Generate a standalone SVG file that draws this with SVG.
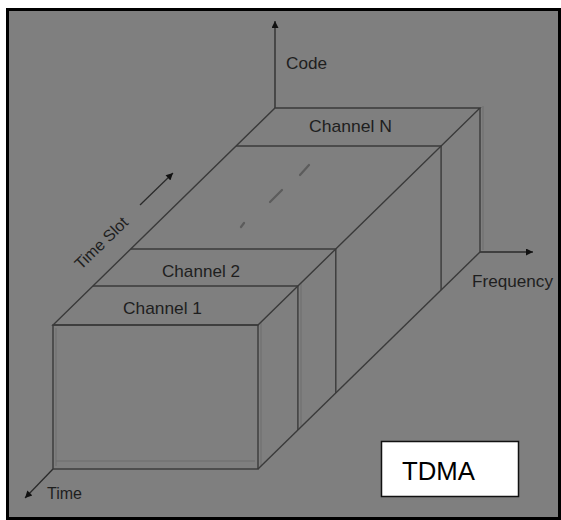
<svg xmlns="http://www.w3.org/2000/svg" width="561" height="520" viewBox="0 0 561 520">
  <defs>
    <style>
      .ln { fill: none; stroke: #3a3a3a; stroke-width: 1.4; stroke-linejoin: miter; }
      .faint { fill: none; stroke: #6e6e6e; stroke-width: 1; }
      .ax { fill: none; stroke: #2a2a2a; stroke-width: 1.3; }
      .lbl { font-family: "Liberation Sans", Arial, sans-serif; font-size: 17px; fill: #1e1e1e; }
      .dash { stroke: #5c5c5c; stroke-width: 2.2; stroke-linecap: round; }
    </style>
    <marker id="ah" viewBox="0 0 10 10" refX="10" refY="5" markerWidth="10" markerHeight="7" markerUnits="userSpaceOnUse" orient="auto">
      <path d="M0,0 L10,5 L0,10 Z" fill="#111"/>
    </marker>
  </defs>

  <rect x="0" y="0" width="561" height="520" fill="#ffffff"/>
  <rect id="frame" x="7.5" y="9.5" width="552" height="509" fill="#7f7f7f" stroke="#000" stroke-width="3"/>

  <!-- axes -->
  <g id="axes">
    <line class="ax" x1="275" y1="108" x2="275" y2="21" marker-end="url(#ah)"/>
    <line class="ax" x1="480" y1="252" x2="533" y2="252" marker-end="url(#ah)"/>
    <line class="ax" x1="53" y1="469" x2="25" y2="498" marker-end="url(#ah)"/>
    <line class="ax" x1="140" y1="205" x2="173" y2="173" marker-end="url(#ah)"/>
  </g>

  <!-- slab -->
  <g id="slab">
    <!-- faint double edges -->
    <line class="faint" x1="56" y1="328" x2="56" y2="466"/>
    <line class="faint" x1="56" y1="461" x2="255" y2="461"/>
    <line class="faint" x1="261" y1="322" x2="261" y2="466"/>
    <line class="faint" x1="483" y1="106" x2="483" y2="250"/>
    <line class="faint" x1="301" y1="283" x2="301" y2="427"/>
    <!-- top face outline -->
    <polygon class="ln" points="275,108 480,108 258,325 53,325"/>
    <!-- front face -->
    <rect class="ln" x="53" y="325" width="205" height="144"/>
    <!-- bottom right diagonal -->
    <line class="ln" x1="258" y1="469" x2="480" y2="252"/>
    <!-- back right vertical -->
    <line class="ln" x1="480" y1="108" x2="480" y2="252"/>
  </g>

  <g id="channel1">
    <line class="ln" x1="92.9" y1="286" x2="297.9" y2="286"/>
    <text class="lbl" x="162.5" y="314" text-anchor="middle" textLength="79" lengthAdjust="spacingAndGlyphs">Channel 1</text>
  </g>

  <g id="channel2">
    <line class="ln" x1="297.9" y1="286" x2="297.9" y2="430"/>
    <line class="ln" x1="130.8" y1="249" x2="335.8" y2="249"/>
    <line class="ln" x1="335.8" y1="249" x2="335.8" y2="393"/>
    <text class="lbl" x="201" y="277" text-anchor="middle" textLength="78" lengthAdjust="spacingAndGlyphs">Channel 2</text>
  </g>

  <g id="continuation">
    <line class="dash" x1="241" y1="227" x2="244" y2="223"/>
    <line class="dash" x1="270" y1="202" x2="282" y2="190"/>
    <line class="dash" x1="300" y1="175" x2="309" y2="165"/>
  </g>

  <g id="channelN">
    <line class="ln" x1="236.1" y1="146" x2="441.1" y2="146"/>
    <line class="ln" x1="441.1" y1="146" x2="441.1" y2="290"/>
    <text class="lbl" x="350.5" y="132" text-anchor="middle" textLength="83" lengthAdjust="spacingAndGlyphs">Channel N</text>
  </g>

  <g id="labels">
    <text class="lbl" x="286" y="69" textLength="41" lengthAdjust="spacingAndGlyphs">Code</text>
    <text class="lbl" x="472" y="287" textLength="81" lengthAdjust="spacingAndGlyphs">Frequency</text>
    <text class="lbl" x="47" y="499" style="font-size:16px" textLength="35" lengthAdjust="spacingAndGlyphs">Time</text>
    <text class="lbl" transform="translate(105,247) rotate(-44)" text-anchor="middle" style="font-size:16px">Time Slot</text>
  </g>

  <g id="tdma">
    <rect x="381.5" y="441.5" width="137" height="55" fill="#ffffff" stroke="#111" stroke-width="1.5"/>
    <text x="402" y="480" font-family="Liberation Sans, Arial, sans-serif" font-size="25" fill="#000" textLength="73" lengthAdjust="spacingAndGlyphs">TDMA</text>
  </g>
</svg>
